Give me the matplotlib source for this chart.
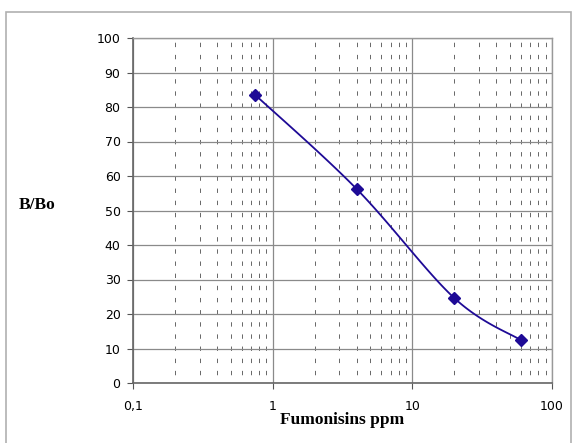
import numpy as np
import matplotlib.pyplot as plt
from matplotlib.patches import Rectangle

# datos
conc = [0.75, 4, 20, 60]          # Fumonisins ppm
bbo = [83.5, 56.2, 24.6, 12.4]    # B/Bo

xticks = [0.1, 1, 10, 100]
xtick_labels = ['0,1', '1', '10', '100']
yticks = list(range(0, 101, 10))

W, H = 575, 443
fig = plt.figure(figsize=(W / 100, H / 100), dpi=100)
ax = fig.add_axes([133 / W, 1 - 383 / H, (552 - 133) / W, (383 - 38) / H])

# marco exterior del grafico
fig.patches.append(Rectangle((6 / W, -0.05), (571 - 6) / W, 1.05 - 12 / H,
                             transform=fig.transFigure, fill=False,
                             edgecolor='#b0b0b0', linewidth=1.2))

ax.set_xscale('log')
ax.set_xlim(0.1, 100)
ax.set_ylim(0, 100)

# linea suavizada tipo Excel (Bezier en coordenadas de pantalla)
sx, sy = 139.7, 3.45
u = np.log10(conc) * sx
v = np.array(bbo) * sy
P = np.column_stack([u, v])
n = len(P)
curve = []
for i in range(n - 1):
    p0 = P[max(i - 1, 0)]
    p1 = P[i]
    p2 = P[i + 1]
    p3 = P[min(i + 2, n - 1)]
    c1 = p1 + (p2 - p0) / 6
    c2 = p2 - (p3 - p1) / 6
    t = np.linspace(0, 1, 40)[:, None]
    seg = (1 - t) ** 3 * p1 + 3 * (1 - t) ** 2 * t * c1 + 3 * (1 - t) * t ** 2 * c2 + t ** 3 * p2
    curve.append(seg)
curve = np.vstack(curve)
ax.plot(10 ** (curve[:, 0] / sx), curve[:, 1] / sy, color='#1e0a96', lw=1.3, zorder=3)
ax.plot(conc, bbo, linestyle='none', marker='D', markersize=6.5,
        color='#1e0a96', zorder=4)

# rejilla
ax.grid(True, which='major', axis='y', color='#8a8a8a', lw=0.9)
ax.grid(True, which='major', axis='x', color='#8a8a8a', lw=0.9)
ax.grid(True, which='minor', axis='x', color='#666666', lw=0.7,
        linestyle=(4, (4.5, 8)))
ax.set_axisbelow(True)

ax.set_xticks(xticks)
ax.set_xticklabels(xtick_labels)
ax.set_yticks(yticks)
ax.tick_params(axis='both', which='major', labelsize=9, length=4,
               color='#555555', direction='out', pad=5)
ax.tick_params(axis='x', which='minor', length=0)
ax.tick_params(axis='x', which='major', pad=8)

for s in ['left', 'bottom']:
    ax.spines[s].set_color('#666666')
    ax.spines[s].set_linewidth(1.2)
for s in ['top', 'right']:
    ax.spines[s].set_color('#999999')
    ax.spines[s].set_linewidth(1.0)

fig.text(37 / W, 1 - 205 / H, 'B/Bo', family='Liberation Serif',
         fontweight='bold', fontsize=12.5, ha='center', va='center')
fig.text(342 / W, 1 - 420 / H, 'Fumonisins ppm', family='Liberation Serif',
         fontweight='bold', fontsize=12.5, ha='center', va='center')

fig.savefig('out.png', dpi=100)
